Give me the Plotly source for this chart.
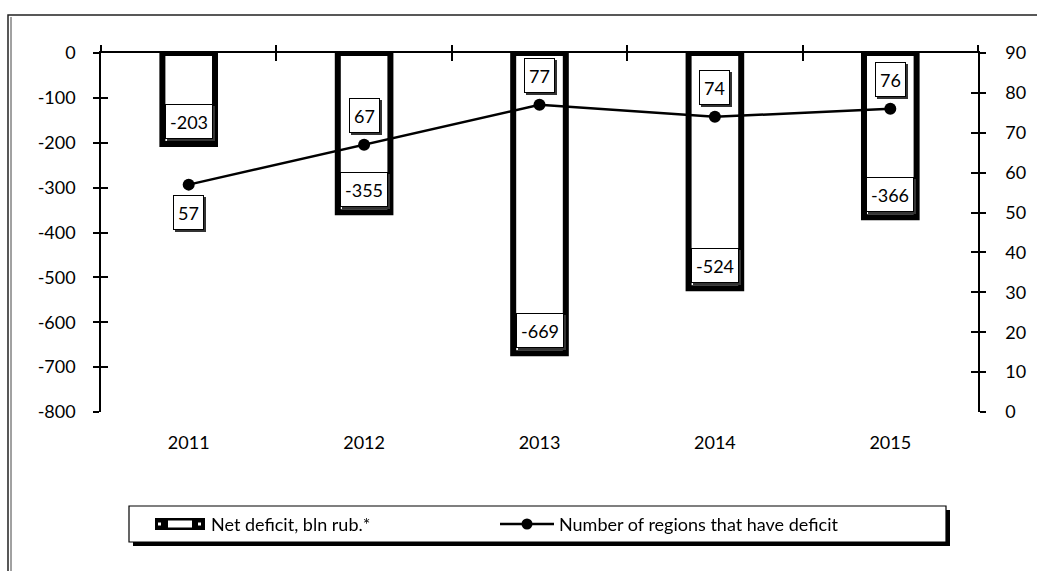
import plotly.graph_objects as go

# ---- data ----
years = ["2011", "2012", "2013", "2014", "2015"]
net_deficit = [-203, -355, -669, -524, -366]
regions_with_deficit = [57, 67, 77, 74, 76]
left_ticks = list(range(-800, 1, 100))
left_tick_text = [str(v) for v in left_ticks]
right_ticks = list(range(0, 91, 10))
bar_name = "Net deficit, bln rub.*"
line_name = "Number of regions that have deficit"
line_label_above = [False, True, True, True, True]

FONT = "Lato"
W, H = 1037, 571
L, R, T, B = 101, 59, 53, 159
pw, ph = W - L - R, H - T - B


def px(x):
    return (x - L) / pw


def py(y):
    return (H - B - y) / ph


fig = go.Figure()
fig.add_trace(go.Bar(
    x=years, y=net_deficit, name=bar_name,
    marker=dict(color="white", line=dict(color="black", width=6)),
    xaxis="x", yaxis="y", showlegend=False, hoverinfo="y"))
fig.add_trace(go.Scatter(
    x=years, y=regions_with_deficit, name=line_name, mode="lines+markers",
    line=dict(color="black", width=2.5), marker=dict(size=12, color="black"),
    xaxis="x", yaxis="y2", showlegend=False))
# helper traces so the tick-only overlay axes are drawn
fig.add_trace(go.Scatter(x=years, y=net_deficit, xaxis="x2", yaxis="y3",
                         mode="markers", opacity=0, hoverinfo="skip", showlegend=False))
fig.add_trace(go.Scatter(x=years, y=regions_with_deficit, xaxis="x3", yaxis="y4",
                         mode="markers", opacity=0, hoverinfo="skip", showlegend=False))

xr = [-0.5, len(years) - 0.5]
tf = dict(family=FONT, size=18, color="black")
common_x = dict(type="category", range=xr, showgrid=False, zeroline=False,
                categoryorder="array", categoryarray=years)
fig.update_layout(
    width=W, height=H, margin=dict(l=L, r=R, t=T, b=B),
    paper_bgcolor="white", plot_bgcolor="white",
    font=dict(family=FONT, size=18, color="black"),
    bargap=0.70, showlegend=False,
    xaxis=dict(**common_x, anchor="y", side="bottom", showline=False, ticks="",
               ticklabelstandoff=18, tickfont=tf),
    xaxis2=dict(**common_x, overlaying="x", anchor="y", side="top", showline=True,
                linecolor="black", linewidth=1.5, ticks="outside", tickson="boundaries",
                ticklen=6, tickwidth=1.5, tickcolor="black", showticklabels=False),
    xaxis3=dict(**common_x, overlaying="x", anchor="y", side="top", showline=False,
                ticks="inside", tickson="boundaries", ticklen=8, tickwidth=1.5,
                tickcolor="black", showticklabels=False),
    yaxis=dict(range=[-800, 0], tickmode="array", tickvals=left_ticks,
               ticktext=left_tick_text, side="left",
               anchor="x", showline=True, linecolor="black", linewidth=1.5,
               ticks="outside", ticklen=6, tickwidth=1.5, tickcolor="black",
               showgrid=False, zeroline=False, ticklabelstandoff=14, tickfont=tf),
    yaxis3=dict(range=[-800, 0], tickmode="array", tickvals=left_ticks, side="left",
                anchor="x", overlaying="y", showline=False, ticks="inside", ticklen=7,
                tickwidth=1.5, tickcolor="black", showgrid=False, zeroline=False,
                showticklabels=False),
    yaxis2=dict(range=[0, 90], tickmode="array", tickvals=right_ticks, side="right",
                anchor="x", overlaying="y", showline=True, linecolor="black",
                linewidth=1.5, ticks="outside", ticklen=6, tickwidth=1.5,
                tickcolor="black", showgrid=False, zeroline=False,
                ticklabelstandoff=16, tickfont=tf),
    yaxis4=dict(range=[0, 90], tickmode="array", tickvals=right_ticks, side="right",
                anchor="x", overlaying="y", showline=False, ticks="inside", ticklen=7,
                tickwidth=1.5, tickcolor="black", showgrid=False, zeroline=False,
                showticklabels=False),
)

ann = []


def boxed(i, y, text, yref, yshift):
    lab = dict(font=dict(family=FONT, size=18, color="black"), borderpad=4,
               borderwidth=1, height=25, showarrow=False, x=i, y=y, xref="x",
               yref=yref, text=text)
    ann.append(dict(lab, xshift=2, yshift=yshift - 2, bgcolor="#333",
                    bordercolor="#333", font=dict(family=FONT, size=18, color="#333")))
    ann.append(dict(lab, yshift=yshift, bgcolor="white", bordercolor="black"))


for i, v in enumerate(net_deficit):
    boxed(i, v, str(v), "y", 23)
for i, (v, up) in enumerate(zip(regions_with_deficit, line_label_above)):
    boxed(i, v, str(v), "y2", 29 if up else -28)

# legend (drawn)
lx0, lx1, ly0, ly1 = 129, 946, 506, 542
shapes = [
    # outer frame
    dict(type="rect", xref="paper", yref="paper", x0=px(8), x1=px(1045), y0=py(580),
         y1=py(15), line=dict(color="#222", width=1.5)),
    dict(type="line", xref="paper", yref="paper", x0=px(11), x1=px(11), y0=py(580),
         y1=py(17), line=dict(color="#444", width=1)),
    # legend shadow + box
    dict(type="rect", xref="paper", yref="paper", x0=px(lx0 + 4), x1=px(lx1 + 4),
         y0=py(ly1 + 4), y1=py(ly0 + 4), fillcolor="black", line=dict(width=0)),
    dict(type="rect", xref="paper", yref="paper", x0=px(lx0), x1=px(lx1),
         y0=py(ly1), y1=py(ly0), fillcolor="white", line=dict(color="black", width=1.2)),
    # bar symbol
    dict(type="rect", xref="paper", yref="paper", x0=px(155), x1=px(205), y0=py(530),
         y1=py(518), fillcolor="black", line=dict(width=0)),
    dict(type="rect", xref="paper", yref="paper", x0=px(168), x1=px(192), y0=py(527.5),
         y1=py(520.5), fillcolor="white", line=dict(width=0)),
    dict(type="rect", xref="paper", yref="paper", x0=px(158), x1=px(161), y0=py(525.5),
         y1=py(522.5), fillcolor="white", line=dict(width=0)),
    dict(type="rect", xref="paper", yref="paper", x0=px(198), x1=px(201), y0=py(525.5),
         y1=py(522.5), fillcolor="white", line=dict(width=0)),
    # line symbol
    dict(type="line", xref="paper", yref="paper", x0=px(500), x1=px(554), y0=py(524),
         y1=py(524), line=dict(color="black", width=2.5)),
    dict(type="circle", xref="paper", yref="paper", x0=px(521.5), x1=px(532.5),
         y0=py(529.5), y1=py(518.5), fillcolor="black", line=dict(width=0)),
]
ann.append(dict(xref="paper", yref="paper", x=px(209), y=py(524), xanchor="left",
                yanchor="middle", text=bar_name, showarrow=False,
                font=dict(family=FONT, size=18, color="black")))
ann.append(dict(xref="paper", yref="paper", x=px(557), y=py(524), xanchor="left",
                yanchor="middle", text=line_name, showarrow=False,
                font=dict(family=FONT, size=18, color="black")))

fig.update_layout(annotations=ann, shapes=shapes)
fig.write_html("out.html")
